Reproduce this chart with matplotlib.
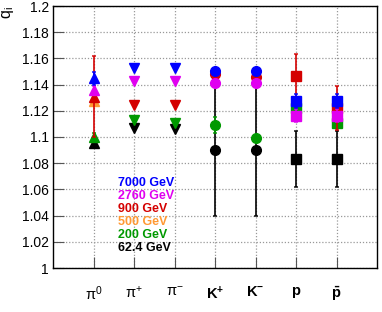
import numpy as np
import matplotlib
matplotlib.use("Agg")
import matplotlib.pyplot as plt
from matplotlib.ticker import FuncFormatter, MultipleLocator

plt.rcParams['font.family'] = ['Liberation Sans', 'DejaVu Sans']
plt.rcParams['mathtext.fontset'] = 'custom'
plt.rcParams['mathtext.rm'] = 'Liberation Sans'
plt.rcParams['mathtext.it'] = 'Liberation Sans:italic'
plt.rcParams['mathtext.bf'] = 'Liberation Sans:bold'

categories = [r'$\mathrm{\pi^{0}}$', r'$\mathrm{\pi^{+}}$', r'$\mathrm{\pi^{-}}$',
              r'$\mathbf{K^{+}}$', r'$\mathbf{K^{-}}$', r'$\mathbf{p}$', r'$\mathbf{\bar{p}}$']
markers = ['^', 'v', 'v', 'o', 'o', 's', 's']

nan = np.nan
q_7000 = [1.145, 1.1529, 1.1529, 1.1506, 1.1506, 1.1275, 1.1275]
q_2760 = [1.136, 1.143, 1.143, 1.141, 1.141, 1.1163, 1.1163]
q_900 = [1.1308, 1.1244, 1.1244, 1.148, 1.1456, 1.1466, 1.122]
q_500 = [1.1275, nan, nan, nan, nan, nan, nan]
q_200 = [1.0998, 1.113, 1.111, 1.1092, 1.099, 1.122, 1.1105]
q_624 = [1.0957, 1.1066, 1.1059, 1.090, 1.090, 1.0832, 1.0832]

e_7000 = [0.005, 0, 0, 0, 0, 0.0053, 0.0053]
e_2760 = [0.003, 0, 0, 0, 0, 0.005, 0.005]
e_900 = [0.031, 0, 0, 0, 0, 0.0164, 0.017]
e_500 = [0.002, 0, 0, 0, 0, 0, 0]
e_200 = [0.003, 0, 0, 0.006, 0.002, 0.003, 0.003]
e_624 = [0, 0, 0, 0.05, 0.05, 0.0216, 0.0216]

energies = ['62.4 GeV', '200 GeV', '500 GeV', '900 GeV', '2760 GeV', '7000 GeV']
series = [q_624, q_200, q_500, q_900, q_2760, q_7000]
errors = [e_624, e_200, e_500, e_900, e_2760, e_7000]
colors = ['#000000', '#009900', '#ff9933', '#d40000', '#e000f0', '#0000ff']

fig = plt.figure(figsize=(3.82, 3.12), dpi=100)
ax = fig.add_axes([53/382, 1-268/312, 324/382, 262/312])

x = np.arange(1, len(categories)+1)
for k, (vals, errs, col) in enumerate(zip(series, errors, colors)):
    vals = np.array(vals, dtype=float)
    errs = np.array(errs, dtype=float)
    for i in range(len(x)):
        if np.isnan(vals[i]):
            continue
        if errs[i] > 0:
            ax.errorbar(x[i], vals[i], yerr=errs[i], fmt='none', ecolor=col,
                        elinewidth=1.4, capsize=1.5, capthick=1.2, zorder=3+k*2, alpha=0.85)
        ms = 6.5 if markers[i] == 's' else 7
        ax.plot(x[i], vals[i], marker=markers[i], color=col, ms=ms, ls='none',
                mec=col, zorder=4+k*2)

ax.set_xlim(0, 8)
ax.set_ylim(1.0, 1.2)
ax.set_xticks(x)
ax.set_xticklabels(categories, fontsize=10.5)
ax.yaxis.set_major_locator(MultipleLocator(0.02))
ax.yaxis.set_major_formatter(FuncFormatter(lambda v, p: '%g' % round(v, 3)))
ax.tick_params(axis='y', direction='in', length=8, width=0.8, labelsize=10, pad=3, color='#555555')
ax.tick_params(axis='x', direction='in', length=8, width=0.8, pad=12, color='#555555')
ax.grid(True, color='#999999', linestyle=(0, (1, 1.5)), linewidth=0.9)
ax.set_axisbelow(True)
for s in ax.spines.values():
    s.set_linewidth(1.0)

ax.set_ylabel(r'$\mathrm{q_{i}}$', fontsize=11.5, loc='top', labelpad=4)

leg_order = ['7000 GeV', '2760 GeV', '900 GeV', '500 GeV', '200 GeV', '62.4 GeV']
for j, lab in enumerate(leg_order):
    col = colors[energies.index(lab)]
    fig.text(118/382, 1-(182.7+13*j)/312, lab, color=col, fontsize=9,
             fontweight='bold', va='center', ha='left')

fig.savefig('out.png', dpi=100)
